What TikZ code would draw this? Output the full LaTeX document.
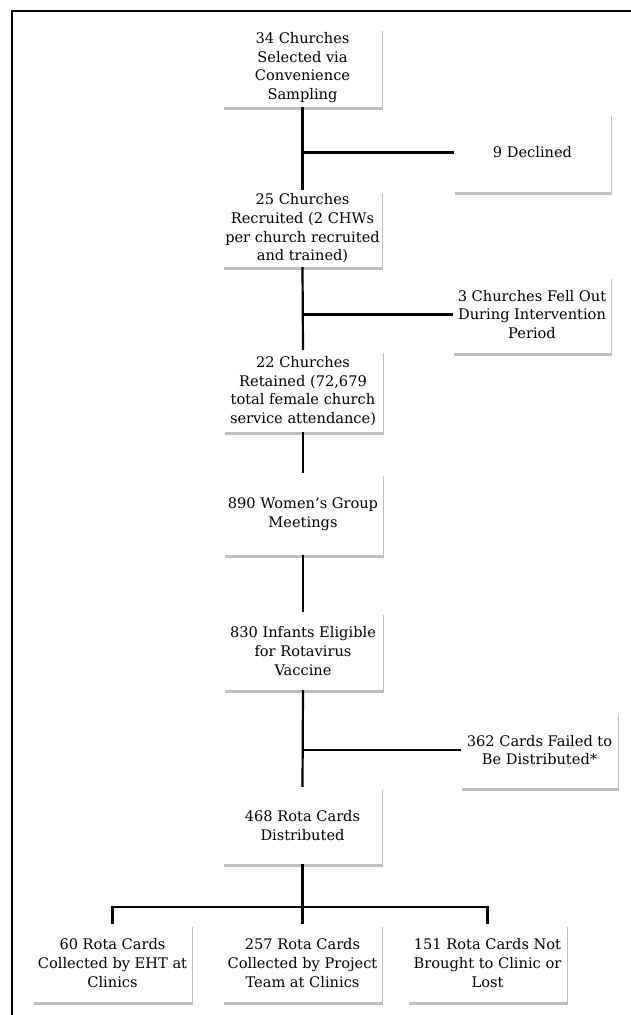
\documentclass[tikz,border=0pt]{standalone}
\usepackage{fontspec}
\setmainfont{DejaVu Serif}
\usetikzlibrary{shadows}
\begin{document}
\begin{tikzpicture}[x=1pt,y=-1pt,
  box/.style={fill=white, minimum width=159pt, inner sep=1pt, align=center,
    font=\fontsize{14.6}{18.7}\selectfont,
    drop shadow={shadow xshift=1pt, shadow yshift=-2.5pt, fill=black, opacity=0.25}},
  link/.style={line width=2.2pt, draw=black},
  frame/.style={line width=1.4pt, draw=black}]
\useasboundingbox (0,0) rectangle (631,1015);
\draw[frame] (12,1015) -- (12,11) -- (631,11);
\node[box, minimum height=79pt] (b1) at (302.5,67.5) {34 Churches\\Selected via\\Convenience\\Sampling};
\node[box, minimum height=79pt, minimum width=157pt] (dec) at (532.5,152.5) {9 Declined};
\node[box, minimum height=77pt] (b2) at (302.5,228.5) {25 Churches\\Recruited (2 CHWs\\per church recruited\\and trained)};
\node[box, minimum height=77pt, minimum width=158pt] (fell) at (532,314.5) {3 Churches Fell Out\\During Intervention\\Period};
\node[box, minimum height=82pt] (b3) at (303,391) {22 Churches\\Retained (72,679\\total female church\\service attendance)};
\node[box, minimum height=82pt] (b4) at (303,514) {890 Women’s Group\\Meetings};
\node[box, minimum height=78pt] (b5) at (303,651) {830 Infants Eligible\\for Rotavirus\\Vaccine};
\node[box, minimum height=76pt, minimum width=157pt] (f362) at (539.5,750) {362 Cards Failed to\\Be Distributed*};
\node[box, minimum height=77pt] (b6) at (302.5,825.5) {468 Rota Cards\\Distributed};
\node[box, minimum height=78pt] (c1) at (112.5,963) {60 Rota Cards\\Collected by EHT at\\Clinics};
\node[box, minimum height=78pt] (c2) at (302.5,963) {257 Rota Cards\\Collected by Project\\Team at Clinics};
\node[box, minimum height=78pt] (c3) at (487.5,963) {151 Rota Cards Not\\Brought to Clinic or\\Lost};
\coordinate (split) at (302.5,907);
\draw[link] (b1.south) -- (b2.north);
\draw[link] (dec.west -| b1.south) -- (dec.west);
\draw[link] (b2.south) -- (b3.north);
\draw[link] (fell.west -| b2.south) -- (fell.west);
\draw[link] (b3.south) -- (b4.north);
\draw[link] (b4.south) -- (b5.north);
\draw[link] (b5.south) -- (b6.north);
\draw[link] (f362.west -| b5.south) -- (f362.west);
\draw[link] (b6.south) -- (c2.north);
\draw[link] (c1.north) -- (c1.north |- split) -- (c3.north |- split) -- (c3.north);
\end{tikzpicture}
\end{document}
